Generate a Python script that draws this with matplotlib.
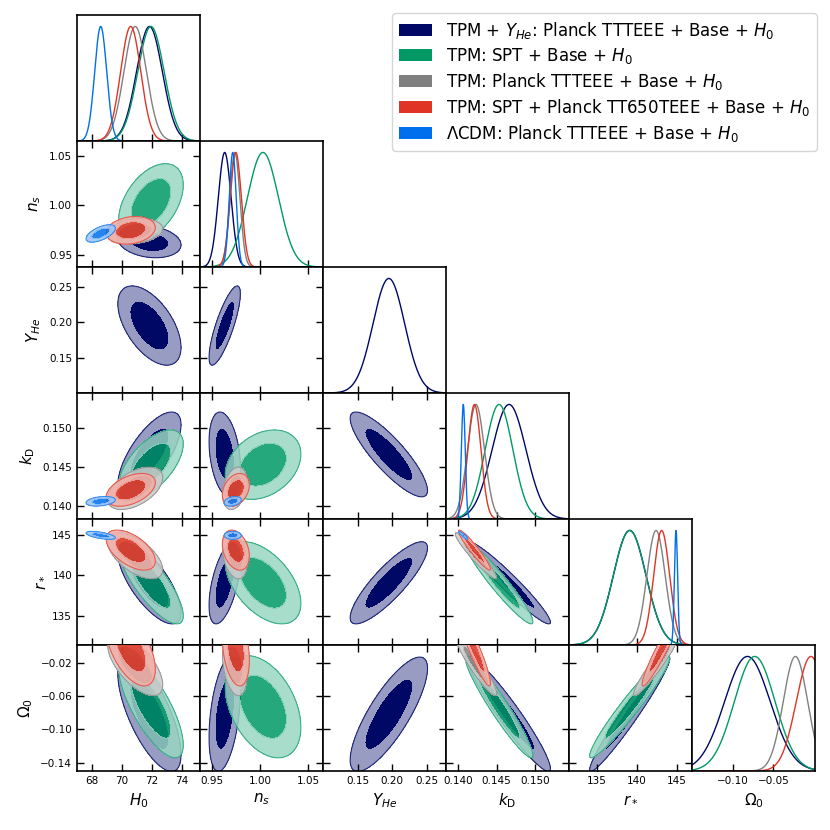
import numpy as np
import matplotlib
matplotlib.use('Agg')
import matplotlib.pyplot as plt
from matplotlib.patches import Patch
from matplotlib.ticker import FixedLocator, FuncFormatter

nan = np.nan

# parameters: H0, ns, YHe, kD, r*, Omega0
param_labels = [r'$H_0$', r'$n_s$', r'$Y_{He}$', r'$k_{\rm D}$', r'$r_*$', r'$\Omega_0$']
param_lims = [(67.02, 75.22), (0.938, 1.065), (0.100, 0.2775),
              (0.1384, 0.1544), (131.5, 146.9), (-0.150, 0.001)]
xtick_vals = [[68, 70, 72, 74], [0.95, 1.00, 1.05], [0.15, 0.20, 0.25],
              [0.140, 0.145, 0.150], [135, 140, 145], [-0.10, -0.05]]
ytick_vals = [[68, 70, 72, 74], [0.95, 1.00, 1.05], [0.15, 0.20, 0.25],
              [0.140, 0.145, 0.150], [135, 140, 145], [-0.02, -0.06, -0.10, -0.14]]
tick_fmt = ['%d', '%.2f', '%.2f', '%.3f', '%d', '%.2f']

chain_labels = [r'TPM + $Y_{He}$: Planck TTTEEE + Base + $H_0$',
                r'TPM: SPT + Base + $H_0$',
                r'TPM: Planck TTTEEE + Base + $H_0$',
                r'TPM: SPT + Planck TT650TEEE + Base + $H_0$',
                r'$\Lambda$CDM: Planck TTTEEE + Base + $H_0$']
chain_colors = ['#000866', '#009966', 'gray', '#E03424', '#006FED']
chain_alpha = [1.0, 0.85, 0.85, 0.85, 0.85]

# means / sigmas per chain (H0, ns, YHe, kD, r*, Omega0)
mean_tpm_yhe = [71.85, 0.9635, 0.195, 0.1466, 139.1, -0.082]
mean_tpm_spt = [71.95, 1.003, nan, 0.1453, 139.1, -0.073]
mean_tpm_planck = [70.9, 0.974, nan, 0.1423, 142.4, -0.023]
mean_tpm_spt_planck = [70.6, 0.975, nan, 0.1421, 143.1, -0.004]
mean_lcdm = [68.6, 0.9718, nan, 0.14065, 144.9, nan]

sig_tpm_yhe = [0.86, 0.0066, 0.0228, 0.0022, 2.05, 0.028]
sig_tpm_spt = [0.88, 0.016, nan, 0.0018, 2.05, 0.025]
sig_tpm_planck = [0.75, 0.0052, nan, 0.0011, 1.15, 0.015]
sig_tpm_spt_planck = [0.67, 0.0057, nan, 0.00085, 1.0, 0.018]
sig_lcdm = [0.40, 0.0036, nan, 0.00025, 0.2, nan]

# correlations for the pairs below
pairs = [(0, 1), (0, 2), (0, 3), (0, 4), (0, 5), (1, 2), (1, 3), (1, 4), (1, 5),
         (2, 3), (2, 4), (2, 5), (3, 4), (3, 5), (4, 5)]
rho_tpm_yhe = [-0.2, -0.55, 0.7, -0.72, -0.7, 0.8, -0.3, 0.55, 0.4,
               -0.85, 0.85, 0.8, -0.96, -0.95, 0.97]
rho_tpm_spt = [0.45, nan, 0.6, -0.8, -0.75, nan, 0.3, -0.5, -0.4,
               nan, nan, nan, -0.95, -0.95, 0.96]
rho_tpm_planck = [0.2, nan, 0.5, -0.6, -0.65, nan, 0.3, -0.3, -0.3,
                  nan, nan, nan, -0.95, -0.93, 0.95]
rho_tpm_spt_planck = [0.2, nan, 0.45, -0.55, -0.55, nan, 0.3, -0.3, -0.3,
                      nan, nan, nan, -0.95, -0.93, 0.95]
rho_lcdm = [0.6, nan, 0.3, -0.6, nan, nan, 0.3, 0.0, nan,
            nan, nan, nan, -0.9, nan, nan]

means = [mean_tpm_yhe, mean_tpm_spt, mean_tpm_planck, mean_tpm_spt_planck, mean_lcdm]
sigmas = [sig_tpm_yhe, sig_tpm_spt, sig_tpm_planck, sig_tpm_spt_planck, sig_lcdm]
rhos = [rho_tpm_yhe, rho_tpm_spt, rho_tpm_planck, rho_tpm_spt_planck, rho_lcdm]

chi2_levels = [0, 2.279, 5.991]  # 68% / 95% in 2D


def pale(c, f=0.6):
    r, g, b = matplotlib.colors.to_rgb(c)
    return (r * (1 - f) + f, g * (1 - f) + f, b * (1 - f) + f)


def fmt_func(f):
    return FuncFormatter(lambda v, p: (f % v).replace('-', '\u2212'))


n = len(param_labels)
fig = plt.figure(figsize=(8.3, 8.3), dpi=100)
left, right, bottom, top = 77 / 830, 815 / 830, 1 - 771 / 830, 1 - 15 / 830
w = (right - left) / n
h = (top - bottom) / n

for i in range(n):
    for j in range(i + 1):
        ax = fig.add_axes([left + j * w, top - (i + 1) * h, w, h])
        for s in ax.spines.values():
            s.set_linewidth(1.2)
        ax.set_xlim(param_lims[j])
        ax.xaxis.set_major_locator(FixedLocator(xtick_vals[j]))
        ax.xaxis.set_major_formatter(fmt_func(tick_fmt[j]))
        if i == j:
            x = np.linspace(param_lims[j][0], param_lims[j][1], 400)
            for k in range(len(means)):
                m, s = means[k][j], sigmas[k][j]
                if np.isnan(m):
                    continue
                ax.plot(x, np.exp(-0.5 * ((x - m) / s) ** 2), color=chain_colors[k], lw=1.0)
            ax.set_ylim(0, 1.1)
            ax.set_yticks([])
            ax.tick_params(direction='in', bottom=True, top=False, left=False, right=False,
                           length=5, width=1, labelsize=7.5)
        else:
            ax.set_ylim(param_lims[i])
            ax.yaxis.set_major_locator(FixedLocator(ytick_vals[i]))
            ax.yaxis.set_major_formatter(fmt_func(tick_fmt[i]))
            x = np.linspace(param_lims[j][0], param_lims[j][1], 250)
            y = np.linspace(param_lims[i][0], param_lims[i][1], 250)
            X, Y = np.meshgrid(x, y)
            for k in range(len(means)):
                r = rhos[k][pairs.index((j, i))]
                if np.isnan(r):
                    continue
                u = (X - means[k][j]) / sigmas[k][j]
                v = (Y - means[k][i]) / sigmas[k][i]
                chi2 = (u ** 2 - 2 * r * u * v + v ** 2) / (1 - r ** 2)
                c = chain_colors[k]
                ax.contourf(X, Y, chi2, levels=chi2_levels, colors=[c, pale(c)],
                            alpha=chain_alpha[k], zorder=k + 1)
                ax.contour(X, Y, chi2, levels=[chi2_levels[2]], colors=[c],
                           linewidths=0.8, alpha=chain_alpha[k] * 0.8, zorder=k + 1)
            ax.tick_params(direction='in', top=True, right=True, length=5, width=1,
                           labelsize=7.5)
        if i == n - 1:
            ax.set_xlabel(param_labels[j], fontsize=11)
        else:
            ax.tick_params(labelbottom=False)
        if j == 0 and i > 0:
            ax.set_ylabel(param_labels[i], fontsize=11)
        else:
            ax.tick_params(labelleft=False)

handles = [Patch(facecolor=c, edgecolor='none') for c in chain_colors]
fig.legend(handles, chain_labels, loc='upper right', bbox_to_anchor=(right + 0.002, top + 0.002),
           fontsize=12, frameon=True, handlelength=2.0, labelspacing=0.3, borderaxespad=0)

fig.savefig('out.png', dpi=100)
